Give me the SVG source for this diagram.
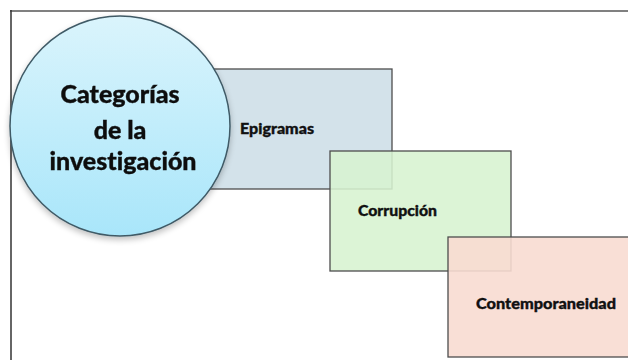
<svg xmlns="http://www.w3.org/2000/svg" width="628" height="360" viewBox="0 0 628 360">
  <defs>
    <linearGradient id="circleFill" x1="0" y1="0" x2="0" y2="1">
      <stop offset="0" stop-color="#daf4fc"/>
      <stop offset="1" stop-color="#a9e6fa"/>
    </linearGradient>
    <filter id="shadow" x="-20%" y="-20%" width="140%" height="150%">
      <feGaussianBlur in="SourceAlpha" stdDeviation="3"/>
      <feOffset dx="0" dy="3" result="b"/>
      <feComponentTransfer><feFuncA type="linear" slope="0.25"/></feComponentTransfer>
      <feMerge><feMergeNode/><feMergeNode in="SourceGraphic"/></feMerge>
    </filter>
  </defs>
  <style>
    .box { stroke: #4d4d4d; stroke-width: 1.3; }
    .lbl { font-family: Lato, "Open Sans", "Liberation Sans", sans-serif; font-weight: 900; fill: #111; stroke: #111; stroke-width: 0.35; font-variant-ligatures: none; }
  </style>
  <rect x="0" y="0" width="628" height="360" fill="#ffffff"/>
  <g id="frame">
    <line x1="10" y1="11" x2="628" y2="11" stroke="#808080" stroke-width="2.2"/>
    <line x1="11" y1="10" x2="11" y2="360" stroke="#333" stroke-width="1.5"/>
  </g>
  <g id="connectors"></g>
  <g id="epigramas">
    <rect class="box" x="190" y="69" width="202" height="120" fill="#d3e2ea"/>
    <text class="lbl" x="240" y="134" font-size="15" textLength="74" lengthAdjust="spacingAndGlyphs">Epigramas</text>
  </g>
  <g id="categorias" filter="url(#shadow)">
    <circle cx="120" cy="126" r="110" fill="url(#circleFill)" stroke="#3f5a66" stroke-width="1.5"/>
    <text class="lbl" text-anchor="middle" font-size="25">
      <tspan x="123" y="103">Categorías</tspan>
      <tspan x="123" y="139">de la</tspan>
      <tspan x="123" y="170">investigación</tspan>
    </text>
  </g>
  <g id="corrupcion">
    <rect class="box" x="330" y="151" width="181" height="120" fill="#d7f2d0" fill-opacity="0.88"/>
    <text class="lbl" x="358" y="216" font-size="15" textLength="79" lengthAdjust="spacingAndGlyphs">Corrupción</text>
  </g>
  <g id="contemporaneidad">
    <rect class="box" x="448" y="237" width="190" height="120" fill="#f8dcd1" fill-opacity="0.9"/>
    <text class="lbl" x="476" y="309" font-size="15" textLength="140" lengthAdjust="spacingAndGlyphs">Contemporaneidad</text>
  </g>
</svg>
